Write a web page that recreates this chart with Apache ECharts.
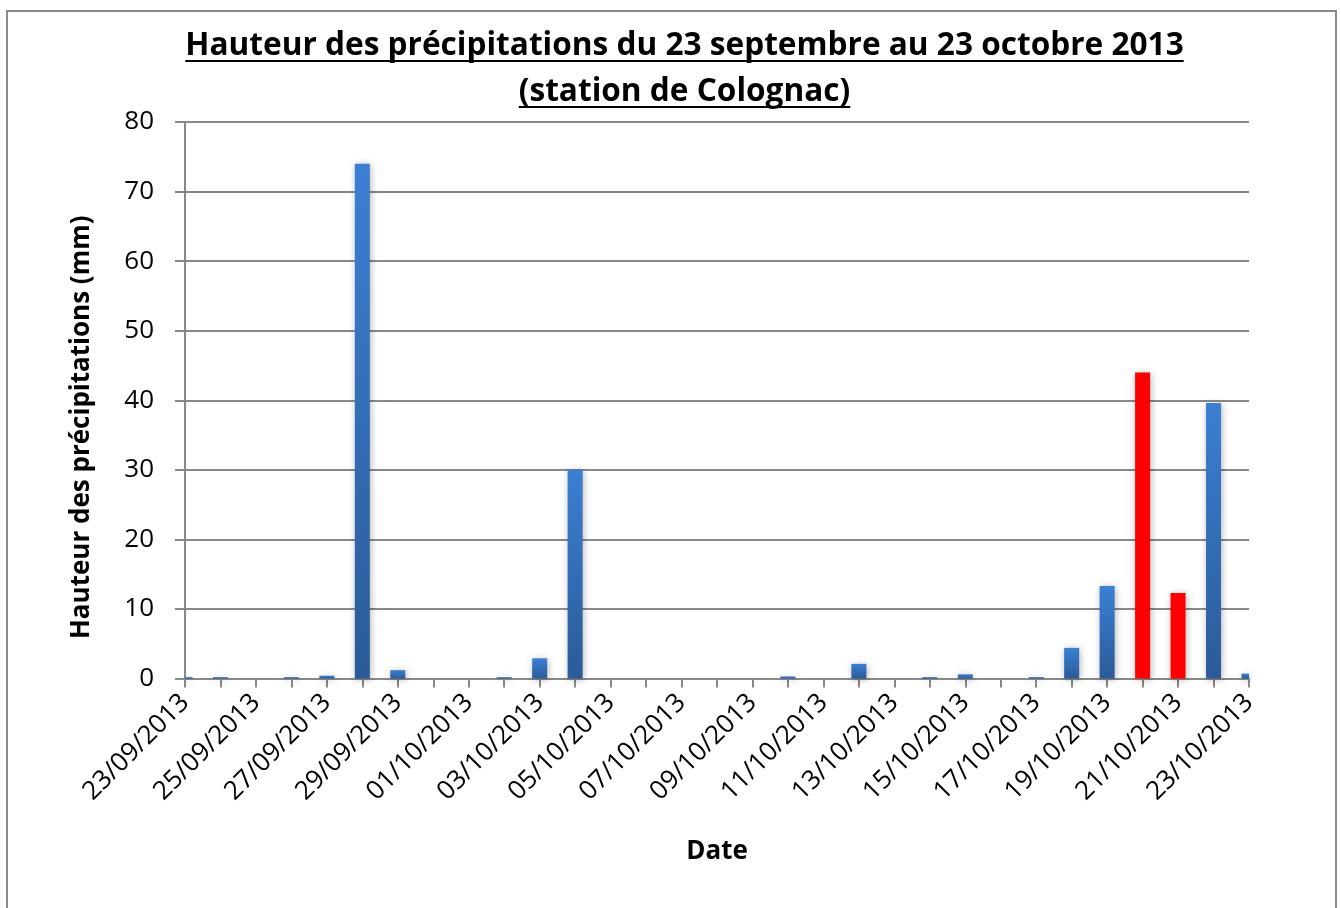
<!DOCTYPE html>
<html><head><meta charset="utf-8">
<script src="https://cdn.jsdelivr.net/npm/echarts@6/dist/echarts.min.js"></script>
<style>html,body{margin:0;padding:0;background:#fff}#c{width:1341px;height:908px}</style>
</head><body><div id="c"></div>
<script>
// ---- data ----
const dates = ['23/09/2013','24/09/2013','25/09/2013','26/09/2013','27/09/2013','28/09/2013','29/09/2013','30/09/2013',
  '01/10/2013','02/10/2013','03/10/2013','04/10/2013','05/10/2013','06/10/2013','07/10/2013','08/10/2013',
  '09/10/2013','10/10/2013','11/10/2013','12/10/2013','13/10/2013','14/10/2013','15/10/2013','16/10/2013',
  '17/10/2013','18/10/2013','19/10/2013','20/10/2013','21/10/2013','22/10/2013','23/10/2013'];
const rainfall = [0.2,0.2,0,0.2,0.4,74,1.2,0,
  0,0.2,2.9,30,0,0,0,0,
  0,0.3,0,2.1,0,0.2,0.6,0,
  0.2,4.4,13.3,44,12.3,39.6,0.7];
const highlightedDates = ['20/10/2013','21/10/2013'];
const yMin = 0, yMax = 80, yInterval = 10;
const titleLines = ['Hauteur des précipitations du 23 septembre au 23 octobre 2013','(station de Colognac)'];
const yAxisName = 'Hauteur des précipitations (mm)';
const xAxisName = 'Date';

// ---- styles ----
const FONT = '"Open Sans", "Liberation Sans", sans-serif';
const GREY = '#888888';
const BAR_W = 15;

const chart = echarts.init(document.getElementById('c'), null, {renderer:'canvas'});

function textWidth(str, font){
  const ctx = document.createElement('canvas').getContext('2d');
  ctx.font = font; return ctx.measureText(str).width;
}
const titleSize = 31.6, titleCx = 684.5;
const titleFontCss = 'bold ' + titleSize + 'px "Open Sans"';
const titleY = [46, 92];
const graphics = [{
  type:'rect', z:-1, silent:true,
  shape:{x:7,y:11,width:1329,height:940},
  style:{fill:'none',stroke:'#8a8a8a',lineWidth:2}
}];
titleLines.forEach((t,i)=>{
  const w = textWidth(t, titleFontCss);
  graphics.push({type:'text', x:titleCx, y:titleY[i], style:{text:t, font:titleFontCss, fill:'#000', align:'center', verticalAlign:'middle'}});
  graphics.push({type:'line', shape:{x1:titleCx-w/2, y1:titleY[i]+15, x2:titleCx+w/2, y2:titleY[i]+15}, style:{stroke:'#000', lineWidth:2}});
});

function renderBar(params, api){
  const idx = api.value(0);
  const top = api.coord([idx, api.value(1)]);
  const base = api.coord([idx, 0]);
  const cs = params.coordSys;
  const rect = echarts.graphic.clipRectByRect(
    {x: top[0]-BAR_W/2, y: top[1], width: BAR_W, height: base[1]-top[1]},
    {x: cs.x, y: cs.y, width: cs.width, height: cs.height});
  if (!rect || rect.height <= 0 || rect.width <= 0) return null;
  const red = highlightedDates.includes(dates[params.dataIndex]);
  return {
    type:'rect', shape:rect,
    style:{
      fill: red ? '#ff0000' : new echarts.graphic.LinearGradient(0,0,0,1,[
        {offset:0,color:'#3b7fd3'},{offset:1,color:'#2b5b98'}]),
      shadowBlur:7, shadowColor:'rgba(0,0,0,0.3)', shadowOffsetX:1, shadowOffsetY:1
    }
  };
}

const option = {
  backgroundColor:'#fff',
  animation:false,
  graphic: graphics,
  grid:{left:185, right:92, top:122, bottom:229.5, containLabel:false},
  xAxis:{
    type:'category', data:dates, boundaryGap:false,
    axisLine:{lineStyle:{color:GREY,width:2}},
    axisTick:{show:true, interval:0, length:9, lineStyle:{color:GREY,width:2}},
    axisLabel:{interval:1, rotate:45, fontSize:26, color:'#000', fontFamily:FONT, margin:20},
    name:xAxisName, nameLocation:'middle', nameGap:160,
    nameTextStyle:{fontSize:26, fontWeight:'bold', color:'#000', fontFamily:FONT},
    splitLine:{show:false}
  },
  yAxis:{
    type:'value', min:yMin, max:yMax, interval:yInterval,
    axisLine:{show:true, lineStyle:{color:GREY,width:2}},
    axisTick:{show:true, length:10, lineStyle:{color:GREY,width:2}},
    axisLabel:{fontSize:26, color:'#000', fontFamily:FONT, margin:31},
    splitLine:{show:true, lineStyle:{color:GREY,width:2}},
    name:yAxisName, nameLocation:'middle', nameGap:90,
    nameTextStyle:{fontSize:26, fontWeight:'bold', color:'#000', fontFamily:FONT, padding:[0,54,0,0]}
  },
  series:[{
    type:'custom', renderItem: renderBar,
    encode:{x:0, y:1},
    data: rainfall.map((v,i)=>[i, v])
  }]
};
chart.setOption(option);
</script>
</body></html>
